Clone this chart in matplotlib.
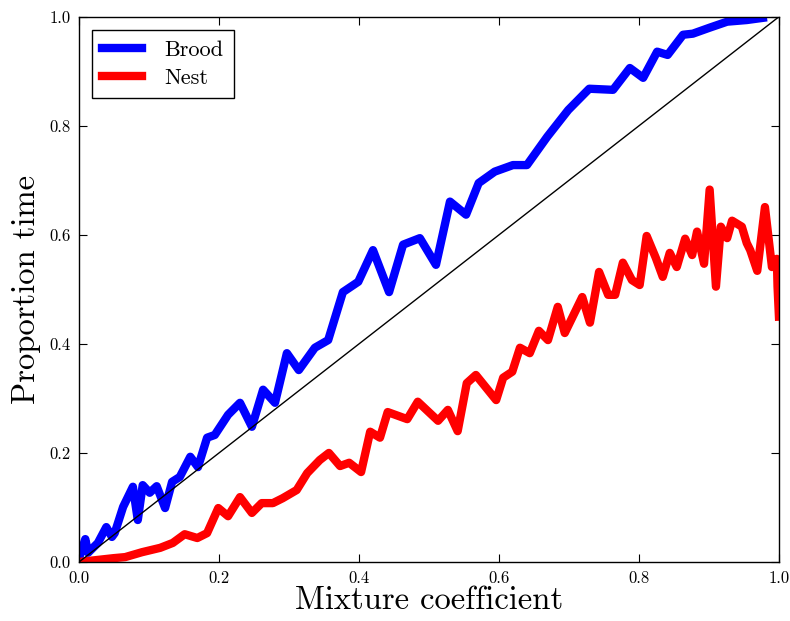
import matplotlib
matplotlib.use("Agg")
import matplotlib.pyplot as plt

plt.rcParams['font.family'] = 'serif'
plt.rcParams['font.serif'] = ['cmr10', 'DejaVu Serif']
plt.rcParams['mathtext.fontset'] = 'cm'
plt.rcParams['axes.formatter.use_mathtext'] = True

brood_x = [0.0, 0.009, 0.013, 0.027, 0.039, 0.047, 0.051, 0.063, 0.077, 0.084,
           0.091, 0.101, 0.111, 0.123, 0.133, 0.144, 0.159, 0.170, 0.183, 0.194,
           0.213, 0.230, 0.247, 0.263, 0.280, 0.297, 0.314, 0.337, 0.356, 0.377,
           0.399, 0.420, 0.443, 0.463, 0.487, 0.510, 0.530, 0.553, 0.571, 0.594,
           0.620, 0.640, 0.669, 0.699, 0.729, 0.763, 0.787, 0.806, 0.826, 0.841,
           0.863, 0.877, 0.901, 0.926, 0.954, 0.977]
brood_y = [0.007, 0.042, 0.017, 0.035, 0.064, 0.046, 0.053, 0.101, 0.138, 0.077,
           0.141, 0.127, 0.139, 0.099, 0.147, 0.156, 0.193, 0.174, 0.228, 0.233,
           0.270, 0.292, 0.248, 0.316, 0.292, 0.383, 0.352, 0.393, 0.407, 0.495,
           0.514, 0.572, 0.495, 0.582, 0.594, 0.545, 0.661, 0.637, 0.695, 0.716,
           0.728, 0.728, 0.780, 0.829, 0.868, 0.866, 0.906, 0.888, 0.936, 0.930,
           0.967, 0.969, 0.980, 0.991, 0.994, 0.998]

nest_x = [0.0, 0.049, 0.066, 0.090, 0.116, 0.134, 0.151, 0.169, 0.183, 0.199,
          0.213, 0.230, 0.247, 0.261, 0.277, 0.291, 0.311, 0.326, 0.344, 0.357,
          0.373, 0.386, 0.403, 0.416, 0.430, 0.441, 0.469, 0.484, 0.513, 0.527,
          0.541, 0.554, 0.567, 0.596, 0.606, 0.619, 0.630, 0.644, 0.657, 0.670,
          0.684, 0.694, 0.719, 0.730, 0.743, 0.756, 0.766, 0.777, 0.790, 0.801,
          0.811, 0.824, 0.834, 0.844, 0.854, 0.866, 0.876, 0.883, 0.893, 0.901,
          0.910, 0.917, 0.926, 0.933, 0.947, 0.954, 0.959, 0.969, 0.980, 0.990,
          0.997, 0.998, 1.0]
nest_y = [0.0, 0.007, 0.009, 0.018, 0.026, 0.035, 0.051, 0.044, 0.053, 0.099,
          0.084, 0.119, 0.090, 0.108, 0.108, 0.117, 0.132, 0.163, 0.187, 0.200,
          0.176, 0.182, 0.165, 0.239, 0.228, 0.275, 0.262, 0.294, 0.259, 0.279,
          0.240, 0.328, 0.343, 0.297, 0.338, 0.349, 0.393, 0.383, 0.424, 0.407,
          0.468, 0.420, 0.486, 0.439, 0.532, 0.490, 0.490, 0.549, 0.517, 0.508,
          0.598, 0.558, 0.523, 0.567, 0.541, 0.593, 0.563, 0.606, 0.547, 0.683,
          0.505, 0.615, 0.594, 0.626, 0.615, 0.585, 0.572, 0.534, 0.651, 0.541,
          0.556, 0.505, 0.450]

diag = [0.0, 1.0]
xticks = [0.0, 0.2, 0.4, 0.6, 0.8, 1.0]
yticks = [0.0, 0.2, 0.4, 0.6, 0.8, 1.0]

fig = plt.figure(figsize=(7.9, 6.21), dpi=100)
ax = fig.add_axes([0.1, 0.095, 0.886, 0.878])

ax.plot(brood_x, brood_y, color='#0000ff', lw=6, label='Brood', solid_joinstyle='round')
ax.plot(nest_x, nest_y, color='#ff0000', lw=6, label='Nest', solid_joinstyle='round')
ax.plot(diag, diag, color='black', lw=1)

ax.set_xlim(0, 1)
ax.set_ylim(0, 1)
ax.set_xticks(xticks)
ax.set_yticks(yticks)
ax.set_xticklabels([f"{t:.1f}" for t in xticks])
ax.set_yticklabels([f"{t:.1f}" for t in yticks])
ax.tick_params(direction='in', top=True, right=True, length=6, width=0.8,
               labelsize=12, pad=6)
for s in ax.spines.values():
    s.set_linewidth(1.0)

ax.set_xlabel('Mixture coefficient', fontsize=23.5, labelpad=0)
ax.set_ylabel('Proportion time', fontsize=23.5, labelpad=6)

leg = ax.legend(loc='upper left', fontsize=16, fancybox=False, framealpha=1,
                edgecolor='black', handlelength=1.8, borderpad=0.45,
                labelspacing=0.4, handletextpad=1.0, borderaxespad=0.6)
leg.get_frame().set_linewidth(1.0)

fig.savefig('out.png', dpi=100)
